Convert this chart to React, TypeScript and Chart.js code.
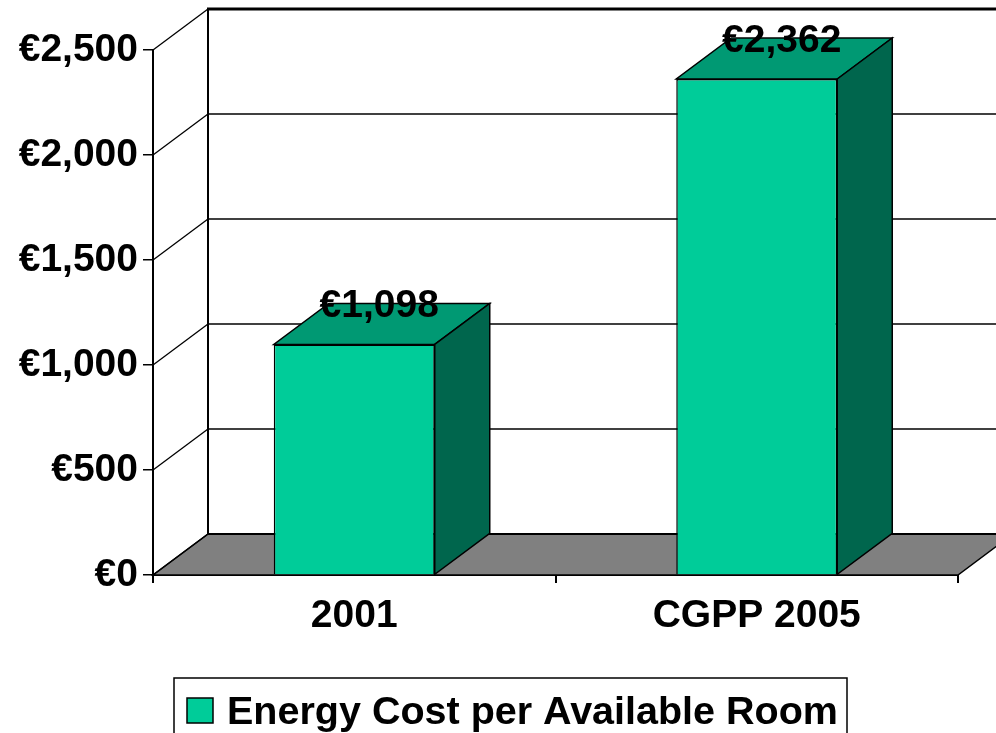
import React, { useEffect, useRef } from 'react';
import { Chart, registerables } from 'chart.js';

Chart.register(...registerables);

const categories = ['2001', 'CGPP 2005'];
const costValues = [1098, 2362];
const seriesLabel = 'Energy Cost per Available Room';
const yTicks = [0, 500, 1000, 1500, 2000, 2500];

const FONT = '"Liberation Sans", Arial, Helvetica, sans-serif';
const DX = 55;
const DY = -41;
const FRONT = '#00CC99';
const TOP = '#009973';
const SIDE = '#00664D';
const FLOOR = '#808080';

const fmt = (v: number) => '\u20AC' + Number(v).toLocaleString('en-US');

const threeD = {
  id: 'threeD',
  beforeDatasetsDraw(chart: any) {
    const { ctx, chartArea: a, scales } = chart;
    const y = scales.y;
    const y0 = y.getPixelForValue(0);
    const maxV = yTicks[yTicks.length - 1];
    ctx.save();
    ctx.strokeStyle = '#000';
    ctx.lineJoin = 'miter';
    // floor
    ctx.beginPath();
    ctx.moveTo(a.left, y0);
    ctx.lineTo(a.right, y0);
    ctx.lineTo(a.right + DX, y0 + DY);
    ctx.lineTo(a.left + DX, y0 + DY);
    ctx.closePath();
    ctx.fillStyle = FLOOR;
    ctx.fill();
    ctx.lineWidth = 1.5;
    ctx.stroke();
    // side wall diagonals
    yTicks.forEach((t) => {
      const py = y.getPixelForValue(t);
      ctx.lineWidth = 1.3;
      ctx.beginPath();
      ctx.moveTo(a.left, py);
      ctx.lineTo(a.left + DX, py + DY);
      ctx.stroke();
    });
    // back wall gridlines
    yTicks.forEach((t) => {
      const py = y.getPixelForValue(t);
      ctx.lineWidth = t === maxV ? 3 : t === 0 ? 2 : 1.5;
      ctx.beginPath();
      ctx.moveTo(a.left + DX - 1, py + DY);
      ctx.lineTo(chart.width + 5, py + DY);
      ctx.stroke();
    });
    // back wall vertical edge
    ctx.lineWidth = 2;
    ctx.beginPath();
    ctx.moveTo(a.left + DX, y0 + DY);
    ctx.lineTo(a.left + DX, y.getPixelForValue(maxV) + DY - 1);
    ctx.stroke();
    ctx.restore();
  },
  afterDatasetsDraw(chart: any) {
    const { ctx } = chart;
    const meta = chart.getDatasetMeta(0);
    ctx.save();
    ctx.strokeStyle = '#000';
    ctx.lineWidth = 1.5;
    ctx.lineJoin = 'miter';
    meta.data.forEach((bar: any, i: number) => {
      const p = bar.getProps(['x', 'y', 'base', 'width'], true);
      const l = p.x - p.width / 2;
      const r = p.x + p.width / 2;
      // top face
      ctx.beginPath();
      ctx.moveTo(l, p.y);
      ctx.lineTo(r, p.y);
      ctx.lineTo(r + DX, p.y + DY);
      ctx.lineTo(l + DX, p.y + DY);
      ctx.closePath();
      ctx.fillStyle = TOP;
      ctx.fill();
      ctx.stroke();
      // side face
      ctx.beginPath();
      ctx.moveTo(r, p.y);
      ctx.lineTo(r + DX, p.y + DY);
      ctx.lineTo(r + DX, p.base + DY);
      ctx.lineTo(r, p.base);
      ctx.closePath();
      ctx.fillStyle = SIDE;
      ctx.fill();
      ctx.stroke();
      // data label
      const v = chart.data.datasets[0].data[i];
      ctx.fillStyle = '#000';
      ctx.font = 'bold 39px ' + FONT;
      ctx.textAlign = 'center';
      ctx.textBaseline = 'alphabetic';
      ctx.fillText(fmt(v), p.x + 25, p.y - 27);
    });
    ctx.restore();
  },
  afterDraw(chart: any) {
    const { ctx } = chart;
    const ds = chart.data.datasets[0];
    ctx.save();
    ctx.strokeStyle = '#000';
    ctx.lineWidth = 1.5;
    ctx.strokeRect(174, 678, 673, 70);
    ctx.fillStyle = ds.backgroundColor;
    ctx.fillRect(187, 698, 26, 25);
    ctx.strokeRect(187, 698, 26, 25);
    ctx.fillStyle = '#000';
    ctx.font = 'bold 39.5px ' + FONT;
    ctx.textAlign = 'left';
    ctx.textBaseline = 'alphabetic';
    ctx.fillText(ds.label, 227, 724);
    ctx.restore();
  },
};

export default function App() {
  const ref = useRef<HTMLCanvasElement>(null);
  useEffect(() => {
    if (!ref.current) return;
    const chart = new Chart(ref.current, {
      type: 'bar',
      data: {
        labels: categories,
        datasets: [
          {
            label: seriesLabel,
            data: costValues,
            backgroundColor: FRONT,
            borderColor: '#000',
            borderWidth: 1.5,
            barPercentage: 0.4,
            categoryPercentage: 1,
          },
        ],
      },
      options: {
        responsive: false,
        animation: false,
        devicePixelRatio: 1,
        layout: { padding: { top: 50, right: 38, left: 0, bottom: 0 } },
        plugins: { legend: { display: false }, tooltip: { enabled: false } },
        scales: {
          x: {
            offset: true,
            grid: {
              display: true,
              drawOnChartArea: false,
              drawTicks: true,
              tickLength: 8,
              offset: true,
              color: '#000',
              lineWidth: 2,
            },
            border: { display: true, color: '#000', width: 2 },
            ticks: {
              color: '#000',
              padding: 10,
              font: { family: FONT, size: 39, weight: 'bold' },
              maxRotation: 0,
            },
            afterFit: (s: any) => {
              s.height = 158;
            },
          },
          y: {
            min: 0,
            max: 2500,
            grid: {
              display: true,
              drawOnChartArea: false,
              drawTicks: true,
              tickLength: 10,
              color: '#000',
              lineWidth: 1.5,
            },
            border: { display: true, color: '#000', width: 2 },
            ticks: {
              stepSize: 500,
              color: '#000',
              padding: 5,
              font: { family: FONT, size: 39, weight: 'bold' },
              callback: (v: any) => fmt(Number(v)),
            },
            afterFit: (s: any) => {
              s.width = 153;
            },
          },
        },
      },
      plugins: [threeD],
    });
    return () => chart.destroy();
  }, []);
  return (
    <div style={{ position: 'fixed', left: 0, top: 0, width: 996, height: 733, background: '#fff' }}>
      <canvas ref={ref} width={996} height={733} />
    </div>
  );
}
